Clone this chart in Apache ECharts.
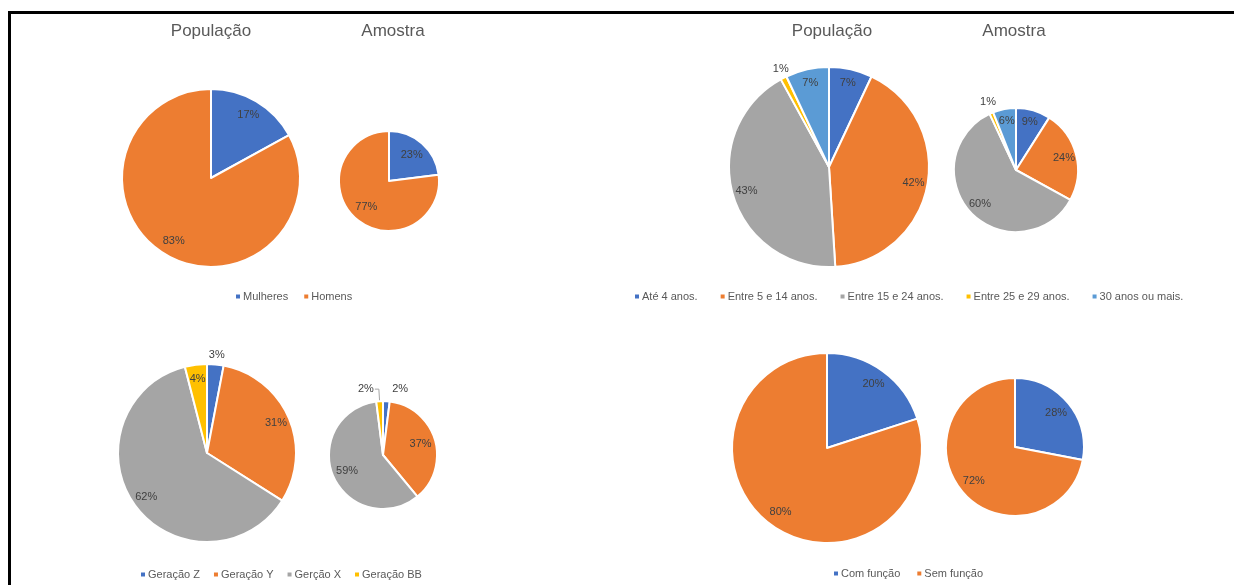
<!DOCTYPE html>
<html>
<head>
<meta charset="utf-8">
<script src="https://cdn.jsdelivr.net/npm/echarts@6/dist/echarts.min.js"></script>
<style>
  html, body { margin: 0; padding: 0; background: #fff; }
  #chart { width: 1234px; height: 585px; }
  #frame { position: absolute; left: 8px; top: 11px; right: 0; bottom: 0;
           border-top: 3px solid #000; border-left: 3px solid #000; pointer-events: none; }
</style>
</head>
<body>
<div id="chart"></div>
<div id="frame"></div>
<script>
// Sexo
const sexNames = ['Mulheres', 'Homens'];
const sexPop = [17, 83];
const sexAmostra = [23, 77];
// Faixa de tempo
const ageNames = ['Até 4 anos.', 'Entre 5 e 14 anos.', 'Entre 15 e 24 anos.', 'Entre 25 e 29 anos.', '30 anos ou mais.'];
const agePop = [7, 42, 43, 1, 7];
const ageAmostra = [9, 24, 60, 1, 6];
// Gerações
const genNames = ['Geração Z', 'Geração Y', 'Gerção X', 'Geração BB'];
const genPop = [3, 31, 62, 4];
const genAmostra = [2, 37, 59, 2];
// Função
const roleNames = ['Com função', 'Sem função'];
const rolePop = [20, 80];
const roleAmostra = [28, 72];

const palette = ['#4472C4', '#ED7D31', '#A5A5A5', '#FFC000', '#5B9BD5'];
const FONT = '"Liberation Sans", Arial, sans-serif';
const LABEL_COLOR = '#404040';
const SMALL = 3; // slices this small get their label outside

// One visible pie plus a transparent wider twin that carries the inner labels
function piePair(names, values, center, r, labelFactor, opts) {
  const o = Object.assign({ len: 4, len2: 0, leader: -1, centered: true }, opts || {});
  const visible = {
    type: 'pie', center: center, radius: [0, r], startAngle: 90, clockwise: true,
    avoidLabelOverlap: false, silent: true,
    itemStyle: { borderColor: '#fff', borderWidth: 2 },
    data: names.map((n, i) => ({
      name: n, value: values[i],
      itemStyle: { color: palette[i] },
      label: { show: values[i] <= SMALL },
      labelLine: { show: o.leader === i }
    })),
    label: { position: 'outside', formatter: '{c}%', color: LABEL_COLOR, fontFamily: FONT, fontSize: 11,
             alignTo: 'none', distanceToLabelLine: 1 },
    labelLine: { length: o.len, length2: o.len2, lineStyle: { color: '#a6a6a6', width: 1 } },
    emphasis: { disabled: true }
  };
  if (o.centered) visible.labelLayout = { align: 'center', verticalAlign: 'bottom' };
  const labels = {
    type: 'pie', center: center, radius: [0, r * labelFactor], startAngle: 90, clockwise: true,
    avoidLabelOverlap: false, silent: true,
    itemStyle: { color: 'rgba(0,0,0,0)', borderWidth: 0 },
    data: names.map((n, i) => ({ name: n, value: values[i], label: { show: values[i] > SMALL } })),
    label: { position: 'inside', formatter: '{c}%', color: LABEL_COLOR, fontFamily: FONT, fontSize: 11 },
    labelLine: { show: false },
    emphasis: { disabled: true }
  };
  return [visible, labels];
}

function title(text, x) {
  return { text: text, left: x, top: 18, textAlign: 'center',
           textStyle: { fontFamily: FONT, fontSize: 17, fontWeight: 'normal', color: '#595959' } };
}

function legend(names, left, top, gap) {
  return { data: names, left: left, top: top, orient: 'horizontal', icon: 'rect',
           itemWidth: 6, itemHeight: 6, itemGap: gap, selectedMode: false,
           textStyle: { fontFamily: FONT, fontSize: 11, color: '#595959', padding: [0, 0, 0, -3] } };
}

const chart = echarts.init(document.getElementById('chart'), null, { renderer: 'canvas' });
chart.setOption({
  backgroundColor: '#fff',
  animation: false,
  title: [title('População', 206), title('Amostra', 388), title('População', 827), title('Amostra', 1009)],
  legend: [
    legend(sexNames, 229, 286, 14),
    legend(ageNames, 628, 286, 21),
    legend(genNames, 134, 564, 12),
    legend(roleNames, 827, 563, 15)
  ],
  series: [
    ...piePair(sexNames, sexPop, [211, 178], 89, 1.58),
    ...piePair(sexNames, sexAmostra, [389, 181], 50, 1.25),
    ...piePair(ageNames, agePop, [829, 167], 100, 1.66, { len: 4 }),
    ...piePair(ageNames, ageAmostra, [1016, 170], 62, 1.5, { len: 6 }),
    ...piePair(genNames, genPop, [207, 453], 89, 1.62, { len: 4 }),
    ...piePair(genNames, genAmostra, [383, 455], 54, 1.34, { len: 12, len2: 4, leader: 3, centered: false }),
    ...piePair(roleNames, rolePop, [827, 448], 95, 1.6),
    ...piePair(roleNames, roleAmostra, [1015, 447], 69, 1.46)
  ]
});
</script>
</body>
</html>
